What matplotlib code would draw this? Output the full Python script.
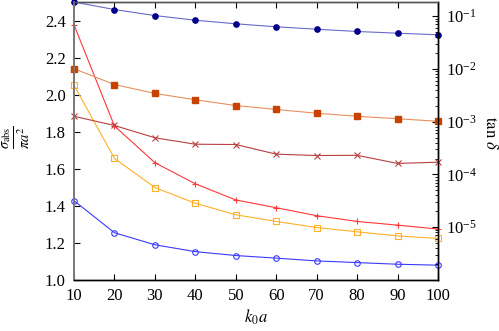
import numpy as np
import matplotlib
matplotlib.use('Agg')
import matplotlib.pyplot as plt
from matplotlib.ticker import LogLocator, NullFormatter

plt.rcParams['font.family'] = 'Liberation Serif'
plt.rcParams['mathtext.fontset'] = 'stix'
plt.rcParams['font.size'] = 12

# k0*a values
ka = [10, 20, 30, 40, 50, 60, 70, 80, 90, 100]

# sigma_abs / (pi a^2)  (left axis)
sig_circ = [1.428, 1.255, 1.190, 1.153, 1.132, 1.118, 1.103, 1.094, 1.085, 1.080]
sig_sq = [2.051, 1.656, 1.499, 1.414, 1.352, 1.316, 1.283, 1.260, 1.238, 1.224]
sig_plus = [2.377, 1.831, 1.633, 1.519, 1.432, 1.390, 1.347, 1.316, 1.296, 1.275]

# tan delta (right axis, log)
tan_circ = [0.186, 0.134, 0.103, 0.0841, 0.0719, 0.0631, 0.0568, 0.0514, 0.0477, 0.0445]
tan_sq = [1.01e-2, 5.08e-3, 3.44e-3, 2.61e-3, 2.03e-3, 1.71e-3, 1.45e-3, 1.27e-3, 1.14e-3, 1.02e-3]
tan_x = [1.27e-3, 8.49e-4, 4.97e-4, 3.75e-4, 3.7e-4, 2.43e-4, 2.29e-4, 2.31e-4, 1.62e-4, 1.71e-4]

fig = plt.figure(figsize=(4.99, 3.31), dpi=100)
ax = fig.add_axes([74/499, 1 - 280/331, 364/499, 278/331])
ax2 = ax.twinx()

ax.plot(ka, sig_circ, '-o', color='#3a3aff', lw=0.8, ms=4, mfc='none', mew=0.8, clip_on=False, zorder=3)
ax.plot(ka, sig_sq, '-s', color='#ffb028', lw=0.8, ms=4, mfc='none', mew=0.8, clip_on=False, zorder=3)
ax.plot(ka, sig_plus, '-+', color='#ff3838', lw=0.8, ms=5, mew=0.8, clip_on=False, zorder=3)

ax2.plot(ka, tan_circ, '-', color='#6a6ac8', lw=0.8, clip_on=False)
ax2.plot(ka, tan_circ, 'o', color='#00008b', ms=3.8, clip_on=False)
ax2.plot(ka, tan_sq, '-', color='#e8905e', lw=0.8, clip_on=False)
ax2.plot(ka, tan_sq, 's', color='#c84200', ms=3.8, clip_on=False)
ax2.plot(ka, tan_x, '-x', color='#b84040', lw=0.8, ms=4, mew=0.8, clip_on=False)

ax.set_xlim(10, 100)
ax.set_ylim(1.0, 2.5)
ax.set_xticks(range(10, 101, 10))
ax.set_yticks(np.arange(1.0, 2.41, 0.2))
ax.set_yticklabels(['1.0', '1.2', '1.4', '1.6', '1.8', '2.0', '2.2', '2.4'])

ax2.set_yscale('log')
ax2.set_ylim(1e-6, 10**-0.73)
ax2.set_yticks([1e-5, 1e-4, 1e-3, 1e-2, 1e-1])
ax2.yaxis.set_minor_locator(LogLocator(base=10, subs=np.arange(2, 10), numticks=20))
ax2.yaxis.set_minor_formatter(NullFormatter())

ax.tick_params(axis='both', direction='in', length=4, width=0.8, pad=6, top=True, right=False)
ax2.tick_params(axis='y', which='major', direction='in', length=4, width=0.8, pad=6)
ax2.tick_params(axis='y', which='minor', direction='in', length=2, width=0.6)

for a in (ax, ax2):
    a.spines['left'].set_color('#7a7a7a')
    a.spines['left'].set_linewidth(1.3)
    a.spines['top'].set_color('#555555')
    a.spines['bottom'].set_color('black')
    a.spines['right'].set_color('black')
    a.spines['bottom'].set_linewidth(1.0)
    a.spines['right'].set_linewidth(1.0)
    a.spines['top'].set_linewidth(1.0)

ax.set_xlabel(r'$k_0 a$', labelpad=2)
# left label as figure text so the whole fraction stays inside the figure
fig.text(1/499, 0.585, r'$\frac{\sigma_{\rm abs}}{\pi a^2}$', rotation=90,
         ha='left', va='center', fontsize=15)
ax2.set_ylabel(r'$\tan\,\delta$', rotation=270, labelpad=14)
ax2.yaxis.set_label_coords(1.165, 0.53)

fig.savefig('out.png', dpi=100)
